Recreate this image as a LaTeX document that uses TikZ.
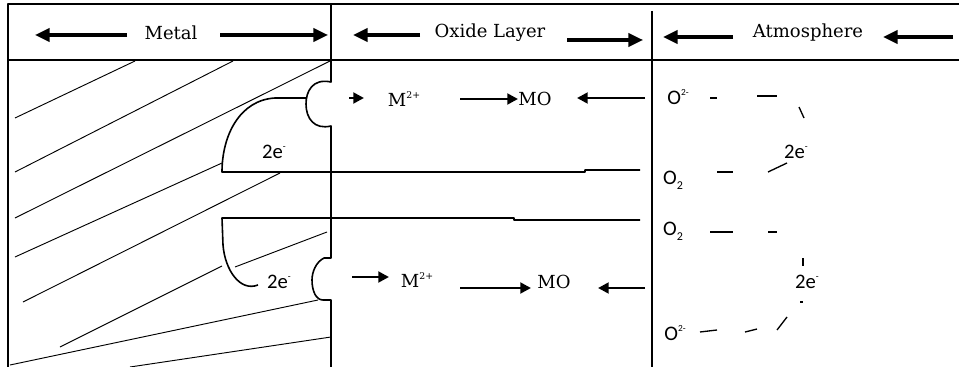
\documentclass[tikz,border=0pt]{standalone}
\usepackage{fontspec}
\setmainfont{DejaVu Serif}
\newfontfamily\calib{Carlito}
\usetikzlibrary{arrows.meta}
\newcommand\myup[1]{\raisebox{0.42em}{\fontsize{7}{7}\selectfont #1}}
\newcommand\mydn[1]{\raisebox{-0.25em}{\fontsize{9}{9}\selectfont #1}}
\begin{document}
\begin{tikzpicture}[x=0.75pt,y=-0.75pt, line join=round,
  frame/.style={line width=1.2pt},
  hatch/.style={line width=0.7pt},
  bigarrow/.style={line width=2.3pt,-{Triangle[length=11pt,width=10pt]}},
  midarrow/.style={line width=2pt,-{Triangle[length=8pt,width=8pt]}},
  serif/.style={inner sep=0pt,font=\fontsize{13.5}{16}\selectfont},
  sans/.style={inner sep=0pt,font=\calib\fontsize{15.5}{18}\selectfont},
  dashseg/.style={line width=1pt}]
\useasboundingbox (0,0) rectangle (959,367);
% frame
\draw[frame] (959,4) -- (8,4) -- (8,367);
\draw[frame] (8,60) -- (959,60);
\draw[frame] (652,11) -- (652,367);
\draw[frame] (331,4) -- (331,82) .. controls (312,78) and (306,92) .. (306,104)
  .. controls (306,118) and (314,130) .. (331,126) -- (331,258) -- (324,258)
  .. controls (316,262) and (312,272) .. (312,280) .. controls (312,291) and (316,300) .. (323,300)
  -- (331,300) -- (331,367);
% electron paths in metal
\draw[line width=2pt] (306,98) -- (283,98);
\draw[frame] (283,98) -- (275,98) .. controls (240,100) and (222,135) .. (222,172)
  -- (585,172) -- (585,170) -- (640,170);
\draw[frame] (640,220) -- (514,220) -- (514,218) -- (222,218) -- (223,245)
  .. controls (225,270) and (240,292) .. (258,285);
% hatching
\draw[hatch] (15,118) -- (135,61);
\draw[hatch] (15,172) -- (233,61);
\draw[hatch] (15,218) -- (330,61);
\draw[hatch] (15,257) -- (222,163);
\draw[hatch] (23,302) -- (280,173);
\draw[hatch] (60,347) -- (222,266);
\draw[hatch] (235,267) -- (327,232);
\draw[hatch] (10,365) -- (318,300);
\draw[hatch] (130,367) -- (331,337);
% header
\node[serif] (metal) at (171,33) {Metal};
\node[serif] (oxide) at (490,33) {Oxide Layer};
\node[serif] (atmo) at (808,33) {Atmosphere};
\coordinate (ma) at (127,35); \coordinate (mb) at (35,35);
\coordinate (mc) at (220,35); \coordinate (md) at (328,35);
\coordinate (oa) at (420,35); \coordinate (ob) at (353,35);
\coordinate (oc) at (567,40); \coordinate (od) at (643,40);
\coordinate (aa) at (733,37); \coordinate (ab) at (663,37);
\coordinate (ac) at (953,37); \coordinate (ad) at (883,37);
\draw[bigarrow] (ma) -- (mb);
\draw[bigarrow] (mc) -- (md);
\draw[bigarrow] (oa) -- (ob);
\draw[bigarrow] (oc) -- (od);
\draw[bigarrow] (aa) -- (ab);
\draw[bigarrow] (ac) -- (ad);
% oxide layer upper
\node[serif] (m1) at (404,99) {M\myup{2+}};
\node[serif] (mo1) at (535,99) {MO};
\coordinate (u1a) at (349,98); \coordinate (u1b) at (364,98);
\coordinate (u2a) at (460,99); \coordinate (u2b) at (518,99);
\coordinate (u3a) at (645,98); \coordinate (u3b) at (577,98);
\draw[midarrow] (u1a) -- (u1b);
\draw[midarrow] (u2a) -- (u2b);
\draw[midarrow] (u3a) -- (u3b);
% oxide layer lower
\node[serif] (m2) at (417,280) {M\myup{2+}};
\node[serif] (mo2) at (554,282) {MO};
\coordinate (l1a) at (352,277); \coordinate (l1b) at (389,277);
\coordinate (l2a) at (460,288); \coordinate (l2b) at (531,288);
\coordinate (l3a) at (645,288); \coordinate (l3b) at (598,288);
\draw[midarrow] (l1a) -- (l1b);
\draw[midarrow] (l2a) -- (l2b);
\draw[midarrow] (l3a) -- (l3b);
% electrons in metal
\node[sans] (e1) at (274,152) {2e\myup{-}};
\node[sans] (e2) at (279,282) {2e\myup{-}};
% atmosphere
\node[sans] (o1) at (678,97) {O\myup{2-}};
\node[sans] (o2) at (673,180) {O\mydn{2}};
\node[sans] (o3) at (673,231) {O\mydn{2}};
\node[sans] (o4) at (675,333) {O\myup{2-}};
\node[sans] (e3) at (796,152) {2e\myup{-}};
\node[sans] (e4) at (807,282) {2e\myup{-}};
\draw[dashseg] (710,98) -- (717,98);
\draw[dashseg] (757,96) -- (777,96);
\draw[dashseg] (799,107) -- (804,118);
\draw[dashseg] (768,172) -- (787,163);
\draw[dashseg] (717,172) -- (733,172);
\draw[dashseg] (710,232) -- (733,232);
\draw[dashseg] (768,232) -- (777,232);
\draw[dashseg] (803,258) -- (803,266);
\draw[dashseg] (800,302) -- (803,302);
\draw[dashseg] (777,330) -- (787,317);
\draw[dashseg] (745,332) -- (757,329);
\draw[dashseg] (700,332) -- (717,330);
\end{tikzpicture}
\end{document}
